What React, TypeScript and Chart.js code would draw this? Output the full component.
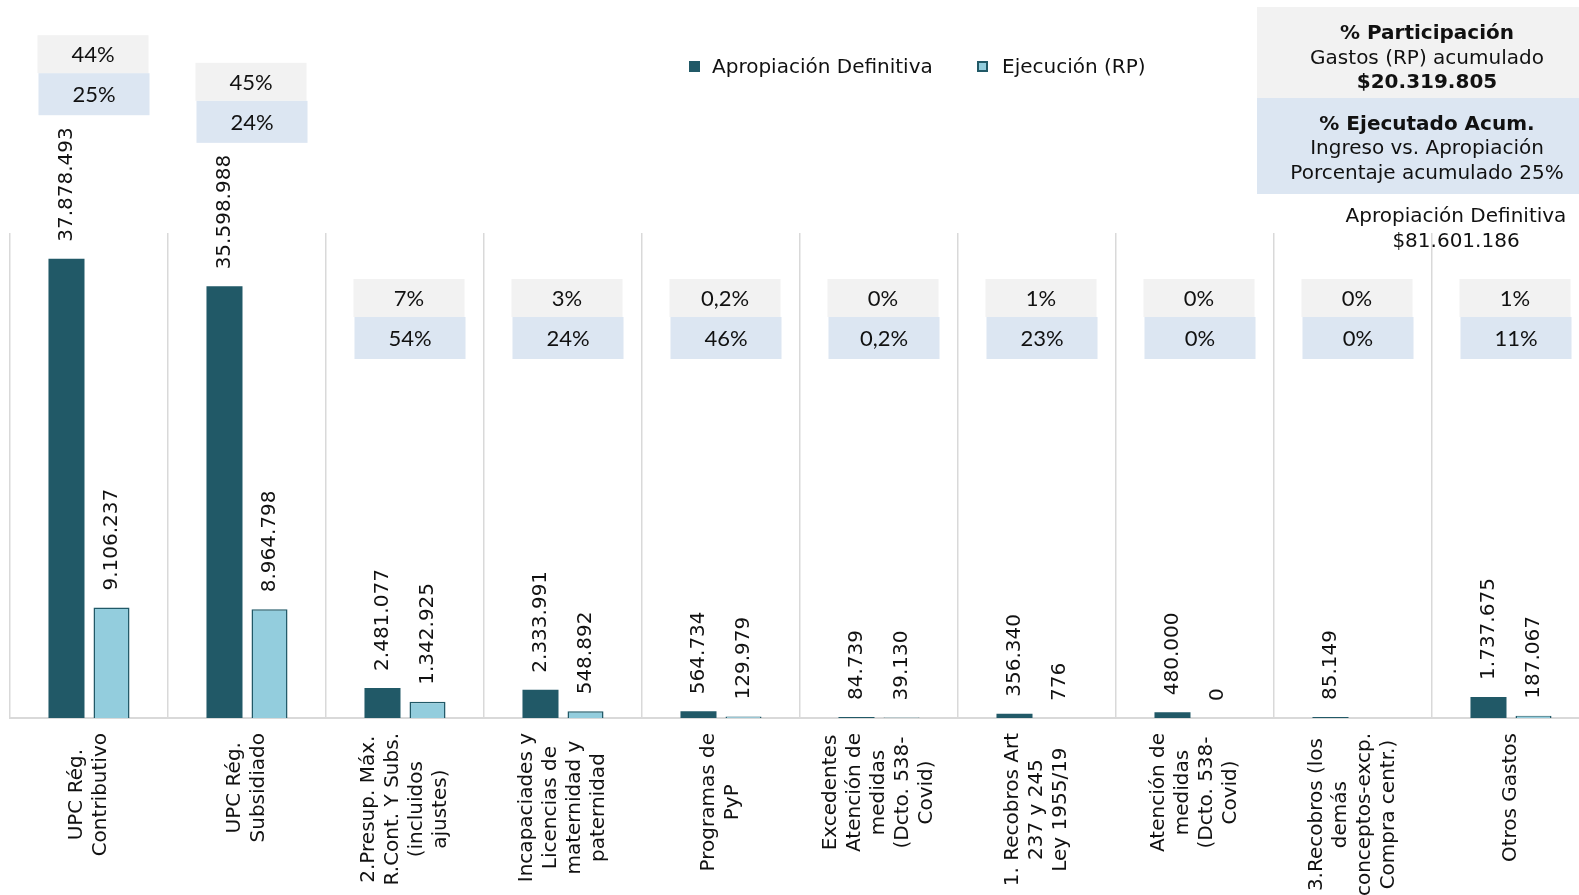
import React, { useEffect, useRef } from "react";
import { Chart, registerables } from "chart.js";

Chart.register(...registerables);

const categories: string[][] = [
  ["UPC Rég.", "Contributivo"],
  ["UPC Rég.", "Subsidiado"],
  ["2.Presup. Máx.", "R.Cont. Y Subs.", "(incluidos", "ajustes)"],
  ["Incapaciades y", "Licencias de", "maternidad y", "paternidad"],
  ["Programas de", "PyP"],
  ["Excedentes", "Atención de", "medidas", "(Dcto. 538-", "Covid)"],
  ["1. Recobros Art", "237 y 245", "Ley 1955/19"],
  ["Atención de", "medidas", "(Dcto. 538-", "Covid)"],
  ["3.Recobros (los", "demás", "conceptos-excp.", "Compra centr.)"],
  ["Otros Gastos"],
];

const apropiacion: (number | null)[] = [
  37878493, 35598988, 2481077, 2333991, 564734, 84739, 356340, 480000, 85149, 1737675,
];
const ejecucion: (number | null)[] = [
  9106237, 8964798, 1342925, 548892, 129979, 39130, 776, 0, null, 187067,
];

const participacion: string[] = ["44%", "45%", "7%", "3%", "0,2%", "0%", "1%", "0%", "0%", "1%"];
const ejecutado: string[] = ["25%", "24%", "54%", "24%", "46%", "0,2%", "23%", "0%", "0%", "11%"];

const seriesNames: string[] = ["Apropiación Definitiva", "Ejecución (RP)"];
const yMax = 40000000;

const infoTop: string[] = ["% Participación", "Gastos (RP) acumulado", "$20.319.805"];
const infoBottom: string[] = ["% Ejecutado Acum.", "Ingreso vs. Apropiación", "Porcentaje acumulado 25%"];
const totalLines: string[] = ["Apropiación Definitiva", "$81.601.186"];

const DARK = "#215967";
const LIGHT = "#93CDDD";
const GREY_BOX = "#F2F2F2";
const BLUE_BOX = "#DCE6F2";
const TEXT = "#111111";
const FONT = "'DejaVu Sans', Verdana, sans-serif";

function fmt(v: number): string {
  return String(Math.round(v)).replace(/\B(?=(\d{3})+(?!\d))/g, ".");
}

const overlayPlugin = {
  id: "overlay",
  afterDraw(chart: any) {
    const ctx: CanvasRenderingContext2D = chart.ctx;
    const area = chart.chartArea;
    const xScale = chart.scales.x;
    ctx.save();

    // value labels
    ctx.font = `20px ${FONT}`;
    ctx.fillStyle = TEXT;
    const labelTops: number[] = categories.map(() => Infinity);
    [apropiacion, ejecucion].forEach((arr, di) => {
      const meta = chart.getDatasetMeta(di);
      meta.data.forEach((el: any, i: number) => {
        const v = arr[i];
        if (v === null || v === undefined) return;
        const txt = fmt(v);
        const w = ctx.measureText(txt).width;
        const y0 = el.y - 17;
        labelTops[i] = Math.min(labelTops[i], y0 - w);
        ctx.save();
        ctx.translate(el.x, y0);
        ctx.rotate(-Math.PI / 2);
        ctx.textAlign = "left";
        ctx.textBaseline = "middle";
        ctx.fillText(txt, 0, 0);
        ctx.restore();
      });
    });

    // category labels
    ctx.font = `20px ${FONT}`;
    categories.forEach((lines, i) => {
      const cx = xScale.getPixelForValue(i);
      const n = lines.length;
      const maxW = Math.max(...lines.map((l) => ctx.measureText(l).width));
      const cy = area.bottom + 15 + maxW / 2;
      lines.forEach((line, j) => {
        const lx = cx + (j - (n - 1) / 2) * 24;
        ctx.save();
        ctx.translate(lx, cy);
        ctx.rotate(-Math.PI / 2);
        ctx.textAlign = "center";
        ctx.textBaseline = "middle";
        ctx.fillText(line, 0, 0);
        ctx.restore();
      });
    });

    // percentage boxes
    const bw = 111;
    const h1 = 38;
    const h2 = 42;
    categories.forEach((_, i) => {
      const cx = xScale.getPixelForValue(i) + 4;
      const bottom = Math.min(359, labelTops[i] - 12);
      const top = bottom - h1 - h2;
      ctx.fillStyle = GREY_BOX;
      ctx.fillRect(cx - bw / 2, top, bw, h1);
      ctx.fillStyle = BLUE_BOX;
      ctx.fillRect(cx - bw / 2 + 1, top + h1, bw, h2);
      ctx.fillStyle = TEXT;
      ctx.font = `22px Lato, 'Liberation Sans', sans-serif`;
      ctx.textAlign = "center";
      ctx.textBaseline = "middle";
      ctx.fillText(participacion[i], cx, top + h1 / 2 + 1);
      ctx.fillText(ejecutado[i], cx + 1, top + h1 + h2 / 2 + 1);
    });

    // legend
    ctx.font = `20px ${FONT}`;
    ctx.textAlign = "left";
    ctx.textBaseline = "middle";
    ctx.fillStyle = DARK;
    ctx.fillRect(689, 61, 11, 11);
    ctx.fillStyle = TEXT;
    ctx.fillText(seriesNames[0], 712, 68);
    ctx.fillStyle = LIGHT;
    ctx.fillRect(977, 61, 11, 11);
    ctx.strokeStyle = DARK;
    ctx.lineWidth = 2;
    ctx.strokeRect(978, 62, 9, 9);
    ctx.fillStyle = TEXT;
    ctx.fillText(seriesNames[1], 1002, 68);

    // top-right info boxes
    const ix = 1257;
    const iw = chart.width - ix;
    const icx = 1427;
    ctx.fillStyle = GREY_BOX;
    ctx.fillRect(ix, 7, iw, 91);
    ctx.fillStyle = BLUE_BOX;
    ctx.fillRect(ix, 98, iw, 96);
    ctx.fillStyle = TEXT;
    ctx.textAlign = "center";
    ctx.textBaseline = "alphabetic";
    const topBase = [39, 64, 88];
    infoTop.forEach((t, k) => {
      ctx.font = k === 1 ? `20px ${FONT}` : `bold 20px ${FONT}`;
      ctx.fillText(t, icx, topBase[k]);
    });
    const botBase = [130, 154, 179];
    infoBottom.forEach((t, k) => {
      ctx.font = k === 0 ? `bold 20px ${FONT}` : `20px ${FONT}`;
      ctx.fillText(t, icx, botBase[k]);
    });
    ctx.font = `20px ${FONT}`;
    ctx.fillText(totalLines[0], 1456, 222);
    ctx.fillText(totalLines[1], 1456, 247);

    ctx.restore();
  },
};

export default function App() {
  const ref = useRef<HTMLCanvasElement | null>(null);
  useEffect(() => {
    if (!ref.current) return;
    const chart = new Chart(ref.current, {
      type: "bar",
      data: {
        labels: categories.map((c) => c.join(" ")),
        datasets: [
          {
            label: seriesNames[0],
            data: apropiacion,
            backgroundColor: DARK,
            borderColor: DARK,
            borderWidth: 0,
            categoryPercentage: 0.57,
            barPercentage: 0.8,
          },
          {
            label: seriesNames[1],
            data: ejecucion,
            backgroundColor: LIGHT,
            borderColor: DARK,
            borderWidth: 1.5,
            categoryPercentage: 0.57,
            barPercentage: 0.8,
          },
        ],
      },
      options: {
        responsive: false,
        animation: false,
        layout: { padding: { left: 10, right: 10, top: 233, bottom: 177 } },
        plugins: {
          legend: { display: false },
          tooltip: { enabled: false },
        },
        scales: {
          x: {
            grid: { color: "#D9D9D9", lineWidth: 1.5, drawTicks: false, offset: true },
            border: { color: "#D9D9D9", width: 2 },
            ticks: { display: false },
          },
          y: { display: false, min: 0, max: yMax },
        },
      },
      plugins: [overlayPlugin],
    });
    return () => chart.destroy();
  }, []);
  return (
    <div
      style={{
        position: "fixed",
        left: 0,
        top: 0,
        width: 1579,
        height: 895,
        overflow: "hidden",
        background: "#fff",
      }}
    >
      <canvas ref={ref} width={1600} height={895} style={{ display: "block" }} />
    </div>
  );
}
